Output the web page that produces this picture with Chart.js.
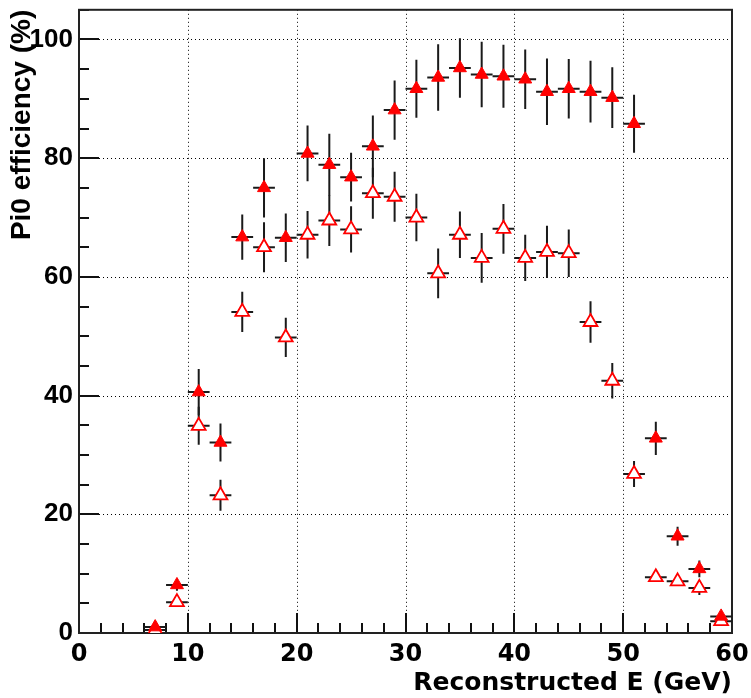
<!DOCTYPE html>
<html>
<head>
<meta charset="utf-8">
<script src="https://cdn.jsdelivr.net/npm/chart.js@4.4.1/dist/chart.umd.min.js"></script>
<style>
    html, body { margin: 0; padding: 0; background: #fff; }
    #wrap { width: 751px; height: 698px; position: relative; }
</style>
</head>
<body>
<div id="wrap"><canvas id="chart"></canvas></div>
<script>
// bin centres (GeV), half bin width is 1 GeV
const energyBins = [7, 9, 11, 13, 15, 17, 19, 21, 23, 25, 27, 29, 31, 33, 35, 37, 39, 41, 43, 45, 47, 49, 51, 53, 55, 57, 59];
const binHalfWidth = 1;

// filled triangles
const effFilled = [1.0, 8.1, 40.6, 32.1, 66.7, 75.0, 66.6, 80.8, 78.9, 76.8, 82.0, 88.1, 91.7, 93.6, 95.2, 94.1, 93.8, 93.3, 91.2, 91.7, 91.2, 90.2, 85.8, 32.8, 16.3, 10.8, 2.8];
const errFilled = [0.5, 1.0, 3.9, 3.2, 3.8, 5.0, 4.1, 4.7, 5.2, 4.1, 5.2, 5.0, 4.9, 5.6, 5.0, 5.5, 5.3, 5.0, 5.6, 5.0, 5.2, 5.1, 4.9, 2.8, 1.6, 1.4, 0.6];

// open triangles
const effOpen = [0.5, 5.2, 34.9, 23.2, 54.1, 65.0, 49.8, 67.1, 69.5, 68.0, 74.1, 73.5, 70.0, 60.6, 67.1, 63.2, 68.1, 63.2, 64.2, 64.0, 52.4, 42.5, 26.8, 9.4, 8.7, 7.6, 2.0];
const errOpen = [0.3, 0.8, 3.2, 2.6, 3.4, 4.2, 3.3, 4.0, 4.3, 3.9, 4.3, 4.2, 4.0, 4.2, 3.9, 4.2, 4.2, 3.9, 4.4, 4.0, 3.5, 3.0, 2.2, 0.8, 0.6, 1.2, 0.5];

const xTicks = [0, 10, 20, 30, 40, 50, 60];
const yTicks = [0, 20, 40, 60, 80, 100];
const xMinorStep = 2;
const yMinorStep = 5;

const toPoints = (vals, errs) => energyBins.map((x, i) => ({ x, y: vals[i], err: errs[i] }));

// ROOT-like frame: dotted grid, inward ticks, error bars
const rootFrame = {
    id: "rootFrame",
    beforeDatasetsDraw(chart) {
        const { ctx, chartArea: area } = chart;
        const xs = chart.scales.x;
        const ys = chart.scales.y;
        ctx.save();

        ctx.strokeStyle = "#000";
        ctx.lineWidth = 1;
        ctx.setLineDash([1, 3]);
        xTicks.forEach(v => {
            if (v <= xs.min || v >= xs.max) return;
            const px = Math.round(xs.getPixelForValue(v)) + 0.5;
            ctx.beginPath();
            ctx.moveTo(px, area.top);
            ctx.lineTo(px, area.bottom);
            ctx.stroke();
        });
        yTicks.forEach(v => {
            if (v <= ys.min || v >= ys.max) return;
            const py = Math.round(ys.getPixelForValue(v)) + 0.5;
            ctx.beginPath();
            ctx.moveTo(area.left, py);
            ctx.lineTo(area.right, py);
            ctx.stroke();
        });
        ctx.setLineDash([]);

        ctx.strokeStyle = "#111";
        ctx.lineWidth = 2;
        for (let v = xs.min; v <= xs.max; v += xMinorStep) {
            const len = xTicks.includes(v) ? 20 : 10;
            const px = Math.round(xs.getPixelForValue(v));
            ctx.beginPath();
            ctx.moveTo(px, area.bottom);
            ctx.lineTo(px, area.bottom - len);
            ctx.stroke();
        }
        for (let v = ys.min; v <= ys.max; v += yMinorStep) {
            const len = yTicks.includes(v) ? 20 : 10;
            const py = Math.round(ys.getPixelForValue(v));
            ctx.beginPath();
            ctx.moveTo(area.left, py);
            ctx.lineTo(area.left + len, py);
            ctx.stroke();
        }
        ctx.strokeStyle = "#222";
        ctx.strokeRect(area.left, area.top, area.width, area.height);

        // error bars, markers get drawn on top
        ctx.strokeStyle = "#1a1a1a";
        ctx.lineWidth = 2;
        chart.data.datasets.forEach((ds, i) => {
            if (!chart.isDatasetVisible(i)) return;
            ds.data.forEach(pt => {
                const cx = xs.getPixelForValue(pt.x);
                const cy = ys.getPixelForValue(pt.y);
                ctx.beginPath();
                ctx.moveTo(xs.getPixelForValue(pt.x - binHalfWidth), cy);
                ctx.lineTo(xs.getPixelForValue(pt.x + binHalfWidth), cy);
                ctx.moveTo(cx, ys.getPixelForValue(Math.max(pt.y - pt.err, 0)));
                ctx.lineTo(cx, ys.getPixelForValue(pt.y + pt.err));
                ctx.stroke();
            });
        });
        ctx.restore();
    }
};

const yFont = { family: '"Liberation Sans", Arial, sans-serif', weight: "bold" };
const xFont = { family: '"DejaVu Sans", sans-serif', weight: "bold" };

new Chart(document.getElementById("chart"), {
    type: "scatter",
    data: {
        datasets: [
            {
                label: "filled",
                data: toPoints(effFilled, errFilled),
                pointStyle: "triangle",
                pointRadius: 7.5,
                pointHoverRadius: 7.5,
                backgroundColor: "#ff0000",
                borderColor: "#ff0000",
                borderWidth: 1
            },
            {
                label: "open",
                data: toPoints(effOpen, errOpen),
                pointStyle: "triangle",
                pointRadius: 8,
                pointHoverRadius: 8,
                backgroundColor: "#ffffff",
                borderColor: "#ff0000",
                borderWidth: 1.8
            }
        ]
    },
    options: {
        responsive: true,
        maintainAspectRatio: false,
        animation: false,
        layout: { padding: { top: 9, right: 19, bottom: 0, left: 0 } },
        plugins: {
            legend: { display: false },
            tooltip: { enabled: false }
        },
        scales: {
            x: {
                type: "linear",
                min: 0,
                max: 60,
                grid: { display: false, drawTicks: false },
                border: { display: false },
                afterBuildTicks: scale => { scale.ticks = xTicks.map(value => ({ value })); },
                afterFit: scale => {
                    scale.height = 65;
                    scale.paddingLeft = 0;
                    scale.paddingRight = 0;
                },
                ticks: {
                    color: "#000",
                    padding: 7,
                    maxRotation: 0,
                    autoSkip: false,
                    font: { ...xFont, size: 24 }
                },
                title: {
                    display: true,
                    text: "Reconstructed E (GeV)",
                    align: "end",
                    color: "#000",
                    padding: { top: 0, bottom: 0 },
                    font: { ...xFont, size: 25 }
                }
            },
            y: {
                type: "linear",
                min: 0,
                max: 105,
                grid: { display: false, drawTicks: false },
                border: { display: false },
                afterBuildTicks: scale => { scale.ticks = yTicks.map(value => ({ value })); },
                afterFit: scale => {
                    scale.width = 79;
                    scale.paddingTop = 0;
                    scale.paddingBottom = 0;
                },
                ticks: {
                    color: "#000",
                    padding: 6,
                    font: { ...yFont, size: 26 }
                },
                title: {
                    display: true,
                    text: "Pi0 efficiency (%)",
                    align: "end",
                    color: "#000",
                    padding: { top: 5, bottom: 0 },
                    font: { ...yFont, size: 28 }
                }
            }
        }
    },
    plugins: [rootFrame]
});
</script>
</body>
</html>
